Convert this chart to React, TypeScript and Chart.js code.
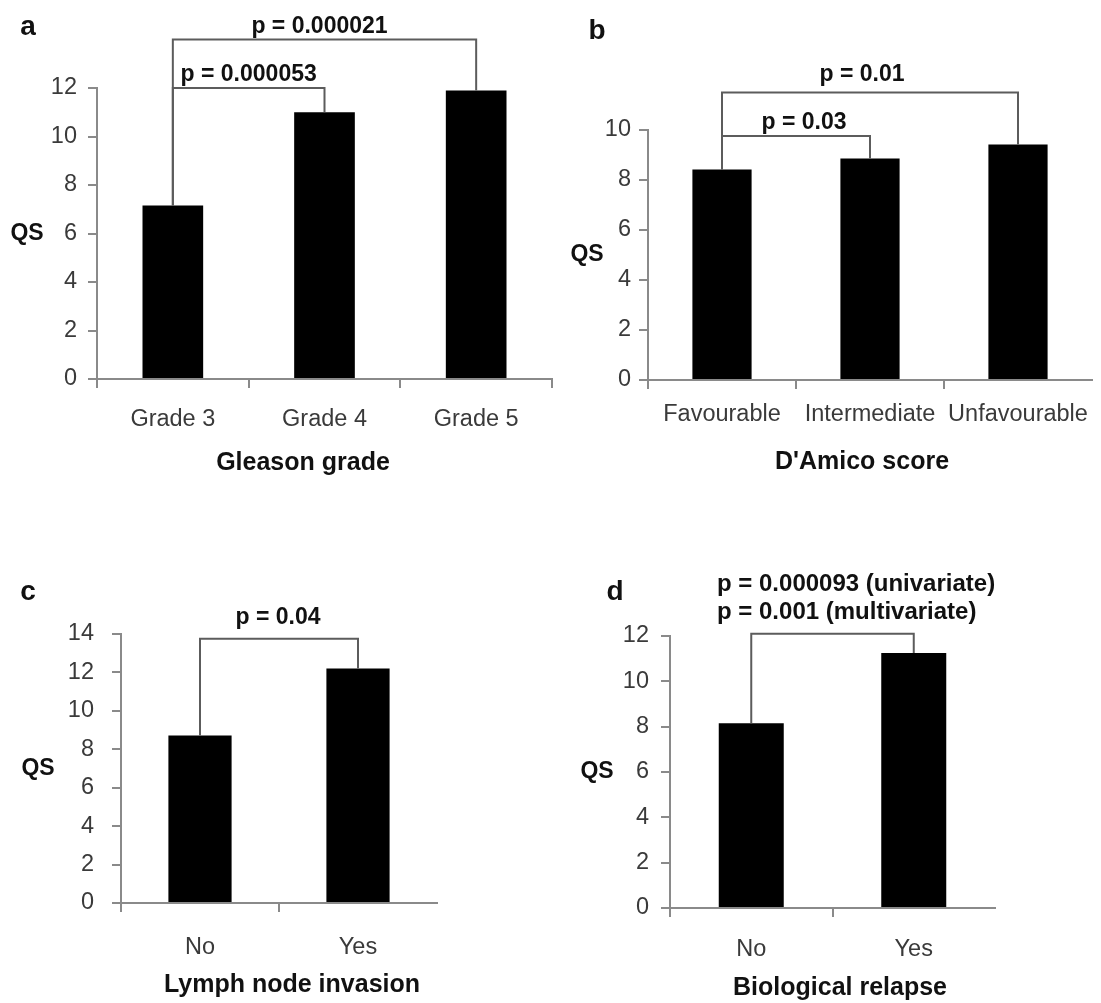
import React, { useEffect, useRef } from 'react';
import { Chart, registerables } from 'chart.js';

Chart.register(...registerables);

// ---------- data ----------
const aCategories = ['Grade 3', 'Grade 4', 'Grade 5'];
const aValues = [7.15, 11.0, 11.9];
const aYMax = 12;
const aBracketFrom = [0, 0];
const aBracketTo = [1, 2];
const aBracketLevel = [12, 14];
const aBracketLabels = [['p = 0.000053'], ['p = 0.000021']];

const bCategories = ['Favourable', 'Intermediate', 'Unfavourable'];
const bValues = [8.42, 8.86, 9.42];
const bYMax = 10;
const bBracketFrom = [0, 0];
const bBracketTo = [1, 2];
const bBracketLevel = [9.76, 11.5];
const bBracketLabels = [['p = 0.03'], ['p = 0.01']];

const cCategories = ['No', 'Yes'];
const cValues = [8.72, 12.2];
const cYMax = 14;
const cBracketFrom = [0];
const cBracketTo = [1];
const cBracketLevel = [13.75];
const cBracketLabels = [['p = 0.04']];

const dCategories = ['No', 'Yes'];
const dValues = [8.15, 11.25];
const dYMax = 12;
const dBracketFrom = [0];
const dBracketTo = [1];
const dBracketLevel = [12.1];
const dBracketLabels = [['p = 0.000093 (univariate)', 'p = 0.001 (multivariate)']];

const yStep = 2;
const yTitle = 'QS';

// ---------- layout ----------
type Rect = { x: number; y: number; w: number; h: number };
type PanelCfg = {
  letter: string;
  categories: string[];
  values: number[];
  yMax: number;
  bFrom: number[];
  bTo: number[];
  bLevel: number[];
  bLabels: string[][];
  xTitle: string;
  canvas: Rect;
  area: { l: number; t: number; r: number; b: number };
  letterPos: [number, number];
  qsX: number;
  xTitlePos: [number, number];
  xTickPad: number;
  yTickPad: number;
  labelFont: number;
  labelAlign: 'center' | 'left';
  labelDx: number[];
  labelGap: number[];
  labelLeftX?: number;
  lineH?: number;
  endTick: boolean;
};

const FONT = "'Liberation Sans', Arial, Helvetica, sans-serif";
const AXIS = '#8a8a8a';
const TXT = '#3a3a3a';
const BRK = '#5c5c5c';
const TICK_SIZE = 23.5;

const panels: PanelCfg[] = [
  {
    letter: 'a', categories: aCategories, values: aValues, yMax: aYMax,
    bFrom: aBracketFrom, bTo: aBracketTo, bLevel: aBracketLevel, bLabels: aBracketLabels,
    xTitle: 'Gleason grade',
    canvas: { x: 0, y: 0, w: 560, h: 500 },
    area: { l: 97, t: 88, r: 552, b: 379 },
    letterPos: [28, 27], qsX: 27, xTitlePos: [303, 463],
    xTickPad: 17, yTickPad: 11, labelFont: 23, labelAlign: 'center',
    labelDx: [0, -5], labelGap: [7.5, 7], endTick: true,
  },
  {
    letter: 'b', categories: bCategories, values: bValues, yMax: bYMax,
    bFrom: bBracketFrom, bTo: bBracketTo, bLevel: bBracketLevel, bLabels: bBracketLabels,
    xTitle: "D'Amico score",
    canvas: { x: 560, y: 0, w: 541, h: 500 },
    area: { l: 648, t: 130, r: 1092, b: 380 },
    letterPos: [597, 31], qsX: 587, xTitlePos: [862, 462],
    xTickPad: 11, yTickPad: 8, labelFont: 23, labelAlign: 'center',
    labelDx: [8, -8], labelGap: [7.5, 11.5], endTick: false,
  },
  {
    letter: 'c', categories: cCategories, values: cValues, yMax: cYMax,
    bFrom: cBracketFrom, bTo: cBracketTo, bLevel: cBracketLevel, bLabels: cBracketLabels,
    xTitle: 'Lymph node invasion',
    canvas: { x: 0, y: 500, w: 560, h: 503 },
    area: { l: 121, t: 634, r: 437, b: 903 },
    letterPos: [28, 592], qsX: 38, xTitlePos: [292, 985],
    xTickPad: 21, yTickPad: 18, labelFont: 23, labelAlign: 'center',
    labelDx: [-1], labelGap: [14.5], endTick: false,
  },
  {
    letter: 'd', categories: dCategories, values: dValues, yMax: dYMax,
    bFrom: dBracketFrom, bTo: dBracketTo, bLevel: dBracketLevel, bLabels: dBracketLabels,
    xTitle: 'Biological relapse',
    canvas: { x: 560, y: 500, w: 541, h: 503 },
    area: { l: 670, t: 636, r: 995, b: 908 },
    letterPos: [615, 592], qsX: 597, xTitlePos: [840, 988],
    xTickPad: 18, yTickPad: 12, labelFont: 24, labelAlign: 'left',
    labelDx: [0], labelGap: [14.5], labelLeftX: 717, lineH: 28, endTick: false,
  },
];

function Panel({ cfg }: { cfg: PanelCfg }) {
  const ref = useRef<HTMLCanvasElement>(null);
  useEffect(() => {
    const cv = cfg.canvas;
    const ox = cv.x;
    const oy = cv.y;
    const annot = {
      id: 'annot' + cfg.letter,
      afterDraw(chart: any) {
        const ctx = chart.ctx as CanvasRenderingContext2D;
        const xs = chart.scales.x;
        const ys = chart.scales.y;
        const ca = chart.chartArea;
        ctx.save();
        ctx.strokeStyle = BRK;
        ctx.lineWidth = 2;
        ctx.lineJoin = 'miter';
        cfg.bLevel.forEach((lv, i) => {
          const f = cfg.bFrom[i];
          const t = cfg.bTo[i];
          const x1 = xs.getPixelForValue(f);
          const x2 = xs.getPixelForValue(t);
          const yl = ys.getPixelForValue(lv);
          const y1 = ys.getPixelForValue(cfg.values[f]);
          const y2 = ys.getPixelForValue(cfg.values[t]);
          ctx.beginPath();
          ctx.moveTo(x1, y1);
          ctx.lineTo(x1, yl);
          ctx.lineTo(x2, yl);
          ctx.lineTo(x2, y2);
          ctx.stroke();
          ctx.fillStyle = '#111';
          ctx.font = `bold ${cfg.labelFont}px ${FONT}`;
          ctx.textBaseline = 'alphabetic';
          const lines = cfg.bLabels[i];
          const baseY = yl - cfg.labelGap[i];
          const lh = cfg.lineH || 26;
          lines.forEach((ln, k) => {
            const by = baseY - (lines.length - 1 - k) * lh;
            if (cfg.labelAlign === 'left') {
              ctx.textAlign = 'left';
              ctx.fillText(ln, (cfg.labelLeftX as number) - ox, by);
            } else {
              ctx.textAlign = 'center';
              ctx.fillText(ln, (x1 + x2) / 2 + cfg.labelDx[i], by);
            }
          });
        });
        ctx.fillStyle = '#111';
        ctx.textAlign = 'center';
        ctx.textBaseline = 'middle';
        ctx.font = `bold 28px ${FONT}`;
        ctx.fillText(cfg.letter, cfg.letterPos[0] - ox, cfg.letterPos[1] - oy);
        ctx.font = `bold 23px ${FONT}`;
        ctx.fillText(yTitle, cfg.qsX - ox, (ca.top + ca.bottom) / 2);
        ctx.font = `bold 25px ${FONT}`;
        ctx.fillText(cfg.xTitle, cfg.xTitlePos[0] - ox, cfg.xTitlePos[1] - oy);
        ctx.restore();
      },
    };

    const chart = new Chart(ref.current as HTMLCanvasElement, {
      type: 'bar',
      data: {
        labels: cfg.categories,
        datasets: [
          {
            data: cfg.values,
            backgroundColor: '#000000',
            borderWidth: 0,
            barPercentage: 0.4,
            categoryPercentage: 1,
          },
        ],
      },
      options: {
        responsive: false,
        animation: false,
        devicePixelRatio: 1,
        events: [],
        layout: {
          padding: {
            left: 0,
            top: cfg.area.t - oy,
            right: ox + cv.w - cfg.area.r,
            bottom: 0,
          },
        },
        plugins: {
          legend: { display: false },
          tooltip: { enabled: false },
          title: { display: false },
        },
        scales: {
          x: {
            type: 'category',
            offset: true,
            grid: {
              offset: true,
              drawOnChartArea: false,
              drawTicks: true,
              tickLength: 9,
              lineWidth: 2,
              color: (c: any) =>
                c.index === undefined && !cfg.endTick ? 'rgba(0,0,0,0)' : AXIS,
            },
            border: { display: true, color: AXIS, width: 2 },
            ticks: {
              color: TXT,
              font: { family: FONT, size: TICK_SIZE },
              padding: cfg.xTickPad,
              maxRotation: 0,
              autoSkip: false,
            },
            afterFit: (s: any) => {
              s.height = oy + cv.h - cfg.area.b;
            },
          },
          y: {
            min: 0,
            max: cfg.yMax,
            grid: {
              drawOnChartArea: false,
              drawTicks: true,
              tickLength: 9,
              lineWidth: 2,
              color: AXIS,
            },
            border: { display: true, color: AXIS, width: 2 },
            ticks: {
              stepSize: yStep,
              color: TXT,
              font: { family: FONT, size: TICK_SIZE },
              padding: cfg.yTickPad,
            },
            afterFit: (s: any) => {
              s.width = cfg.area.l - ox;
            },
          },
        },
      },
      plugins: [annot],
    } as any);
    return () => chart.destroy();
  }, []);
  const cv = cfg.canvas;
  return (
    <canvas
      ref={ref}
      width={cv.w}
      height={cv.h}
      style={{ position: 'absolute', left: cv.x, top: cv.y, width: cv.w, height: cv.h }}
    />
  );
}

export default function App() {
  return (
    <div style={{ position: 'absolute', left: 0, top: 0, width: 1101, height: 1003, background: '#fff' }}>
      {panels.map((p) => (
        <Panel key={p.letter} cfg={p} />
      ))}
    </div>
  );
}
